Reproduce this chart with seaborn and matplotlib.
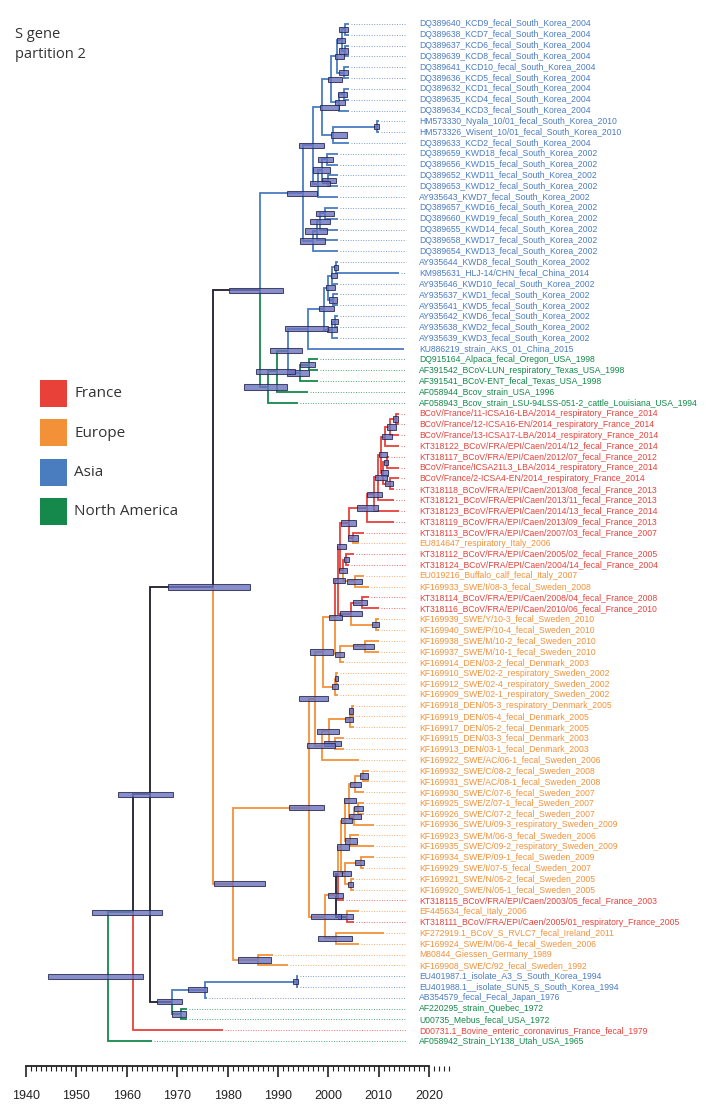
import matplotlib
matplotlib.use("Agg")
import matplotlib.pyplot as plt
from matplotlib.patches import Rectangle
import seaborn as sns

W, H = 707, 1110
XMIN, XMAX = 1934.84, 2075.12
YTOP, YBOT = -2.218, 100.37

# ---------------- data ----------------
tip_labels = [
    "DQ389640_KCD9_fecal_South_Korea_2004", "DQ389638_KCD7_fecal_South_Korea_2004",
    "DQ389637_KCD6_fecal_South_Korea_2004", "DQ389639_KCD8_fecal_South_Korea_2004",
    "DQ389641_KCD10_fecal_South_Korea_2004", "DQ389636_KCD5_fecal_South_Korea_2004",
    "DQ389632_KCD1_fecal_South_Korea_2004", "DQ389635_KCD4_fecal_South_Korea_2004",
    "DQ389634_KCD3_fecal_South_Korea_2004", "HM573330_Nyala_10/01_fecal_South_Korea_2010",
    "HM573326_Wisent_10/01_fecal_South_Korea_2010", "DQ389633_KCD2_fecal_South_Korea_2004",
    "DQ389659_KWD18_fecal_South_Korea_2002", "DQ389656_KWD15_fecal_South_Korea_2002",
    "DQ389652_KWD11_fecal_South_Korea_2002", "DQ389653_KWD12_fecal_South_Korea_2002",
    "AY935643_KWD7_fecal_South_Korea_2002", "DQ389657_KWD16_fecal_South_Korea_2002",
    "DQ389660_KWD19_fecal_South_Korea_2002", "DQ389655_KWD14_fecal_South_Korea_2002",
    "DQ389658_KWD17_fecal_South_Korea_2002", "DQ389654_KWD13_fecal_South_Korea_2002",
    "AY935644_KWD8_fecal_South_Korea_2002", "KM985631_HLJ-14/CHN_fecal_China_2014",
    "AY935646_KWD10_fecal_South_Korea_2002", "AY935637_KWD1_fecal_South_Korea_2002",
    "AY935641_KWD5_fecal_South_Korea_2002", "AY935642_KWD6_fecal_South_Korea_2002",
    "AY935638_KWD2_fecal_South_Korea_2002", "AY935639_KWD3_fecal_South_Korea_2002",
    "KU886219_strain_AKS_01_China_2015", "DQ915164_Alpaca_fecal_Oregon_USA_1998",
    "AF391542_BCoV-LUN_respiratory_Texas_USA_1998", "AF391541_BCoV-ENT_fecal_Texas_USA_1998",
    "AF058944_Bcov_strain_USA_1996", "AF058943_Bcov_strain_LSU-94LSS-051-2_cattle_Louisiana_USA_1994",
    "BCoV/France/11-ICSA16-LBA/2014_respiratory_France_2014",
    "BCoV/France/12-ICSA16-EN/2014_respiratory_France_2014",
    "BCoV/France/13-ICSA17-LBA/2014_respiratory_France_2014",
    "KT318122_BCoV/FRA/EPI/Caen/2014/12_fecal_France_2014",
    "KT318117_BCoV/FRA/EPI/Caen/2012/07_fecal_France_2012",
    "BCoV/France/ICSA21L3_LBA/2014_respiratory_France_2014",
    "BCoV/France/2-ICSA4-EN/2014_respiratory_France_2014",
    "KT318118_BCoV/FRA/EPI/Caen/2013/08_fecal_France_2013",
    "KT318121_BCoV/FRA/EPI/Caen/2013/11_fecal_France_2013",
    "KT318123_BCoV/FRA/EPI/Caen/2014/13_fecal_France_2014",
    "KT318119_BCoV/FRA/EPI/Caen/2013/09_fecal_France_2013",
    "KT318113_BCoV/FRA/EPI/Caen/2007/03_fecal_France_2007",
    "EU814647_respiratory_Italy_2006",
    "KT318112_BCoV/FRA/EPI/Caen/2005/02_fecal_France_2005",
    "KT318124_BCoV/FRA/EPI/Caen/2004/14_fecal_France_2004",
    "EU019216_Buffalo_calf_fecal_Italy_2007", "KF169933_SWE/I/08-3_fecal_Sweden_2008",
    "KT318114_BCoV/FRA/EPI/Caen/2008/04_fecal_France_2008",
    "KT318116_BCoV/FRA/EPI/Caen/2010/06_fecal_France_2010",
    "KF169939_SWE/Y/10-3_fecal_Sweden_2010", "KF169940_SWE/P/10-4_fecal_Sweden_2010",
    "KF169938_SWE/M/10-2_fecal_Sweden_2010", "KF169937_SWE/M/10-1_fecal_Sweden_2010",
    "KF169914_DEN/03-2_fecal_Denmark_2003", "KF169910_SWE/02-2_respiratory_Sweden_2002",
    "KF169912_SWE/02-4_respiratory_Sweden_2002", "KF169909_SWE/02-1_respiratory_Sweden_2002",
    "KF169918_DEN/05-3_respiratory_Denmark_2005", "KF169919_DEN/05-4_fecal_Denmark_2005",
    "KF169917_DEN/05-2_fecal_Denmark_2005", "KF169915_DEN/03-3_fecal_Denmark_2003",
    "KF169913_DEN/03-1_fecal_Denmark_2003", "KF169922_SWE/AC/06-1_fecal_Sweden_2006",
    "KF169932_SWE/C/08-2_fecal_Sweden_2008", "KF169931_SWE/AC/08-1_fecal_Sweden_2008",
    "KF169930_SWE/C/07-6_fecal_Sweden_2007", "KF169925_SWE/Z/07-1_fecal_Sweden_2007",
    "KF169926_SWE/C/07-2_fecal_Sweden_2007", "KF169936_SWE/U/09-3_respiratory_Sweden_2009",
    "KF169923_SWE/M/06-3_fecal_Sweden_2006", "KF169935_SWE/C/09-2_respiratory_Sweden_2009",
    "KF169934_SWE/P/09-1_fecal_Sweden_2009", "KF169929_SWE/I/07-5_fecal_Sweden_2007",
    "KF169921_SWE/N/05-2_fecal_Sweden_2005", "KF169920_SWE/N/05-1_fecal_Sweden_2005",
    "KT318115_BCoV/FRA/EPI/Caen/2003/05_fecal_France_2003", "EF445634_fecal_Italy_2006",
    "KT318111_BCoV/FRA/EPI/Caen/2005/01_respiratory_France_2005",
    "KF272919.1_BCoV_S_RVLC7_fecal_Ireland_2011", "KF169924_SWE/M/06-4_fecal_Sweden_2006",
    "M80844_Giessen_Germany_1989", "KF169908_SWE/C/92_fecal_Sweden_1992",
    "EU401987.1_isolate_A3_S_South_Korea_1994", "EU401988.1__isolate_SUN5_S_South_Korea_1994",
    "AB354579_fecal_Fecal_Japan_1976", "AF220295_strain_Quebec_1972",
    "U00735_Mebus_fecal_USA_1972", "D00731.1_Bovine_enteric_coronavirus_France_fecal_1979",
    "AF058942_Strain_LY138_Utah_USA_1965",
]

tip_years = [
    2004, 2004, 2004, 2004, 2004, 2004, 2004, 2004, 2004, 2010, 2010, 2004,
    2002, 2002, 2002, 2002, 2002, 2002, 2002, 2002, 2002, 2002, 2002, 2014,
    2002, 2002, 2002, 2002, 2002, 2002, 2015, 1998, 1998, 1998, 1996, 1994,
    2014, 2014, 2014, 2014, 2012, 2014, 2014, 2013, 2013, 2014, 2013, 2007,
    2006, 2005, 2004, 2007, 2008, 2008, 2010, 2010, 2010, 2010, 2010, 2003,
    2002, 2002, 2002, 2005, 2005, 2005, 2003, 2003, 2006, 2008, 2008, 2007,
    2007, 2007, 2009, 2006, 2009, 2009, 2007, 2005, 2005, 2003, 2006, 2005,
    2011, 2006, 1989, 1992, 1994, 1994, 1976, 1972, 1972, 1979, 1965,
]

# F = France, E = Europe, A = Asia, N = North America
tip_regions = list(
    "A" * 31 + "N" * 5 + "F" * 12 + "E" + "FF" + "EE" + "FF" + "E" * 26
    + "F" + "E" + "F" + "E" * 4 + "AAA" + "NN" + "F" + "N"
)

# internal nodes: (name, child1, child2, node year, HPD low, HPD high, state)  K = unresolved
asia_top_nodes = [
    ("n01", 0, 1, 2003.2, 2002.2, 2003.8, "A"),
    ("n23", 2, 3, 2003.2, 2002.2, 2003.8, "A"),
    ("n0123", "n01", "n23", 2002.6, 2001.8, 2003.3, "A"),
    ("n45", 4, 5, 2003.1, 2002.2, 2003.8, "A"),
    ("n05", "n0123", "n45", 2001.8, 2001.3, 2003.1, "A"),
    ("n67", 6, 7, 2003.0, 2002.0, 2003.6, "A"),
    ("n68", "n67", 8, 2002.2, 2001.4, 2003.2, "A"),
    ("n08", "n05", "n68", 2000.5, 2000.0, 2002.6, "A"),
    ("n910", 9, 10, 2009.6, 2009.0, 2010.0, "A"),
    ("n911", "n910", 11, 2001.0, 2000.6, 2003.6, "A"),
    ("n011", "n08", "n911", 1998.7, 1998.3, 2002.2, "A"),
    ("n1213", 12, 13, 1999.8, 1998.0, 2001.0, "A"),
    ("n1415", 14, 15, 2000.0, 1998.7, 2001.5, "A"),
    ("n1215", "n1213", "n1415", 1998.8, 1997.0, 2000.3, "A"),
    ("n1216", "n1215", 16, 1998.0, 1996.3, 2000.3, "A"),
    ("n016", "n011", "n1216", 1996.9, 1994.2, 1999.1, "A"),
    ("n1718", 17, 18, 1999.3, 1997.5, 2001.1, "A"),
    ("n1719", "n1718", 19, 1998.4, 1996.3, 2000.3, "A"),
    ("n1720", "n1719", 20, 1997.7, 1995.4, 1999.8, "A"),
    ("n1721", "n1720", 21, 1997.0, 1994.4, 1999.4, "A"),
    ("n021", "n016", "n1721", 1995.0, 1991.7, 1997.7, "A"),
]

asia_lower_nodes = [
    ("n2223", 22, 23, 2001.5, 2001.2, 2002.0, "A"),
    ("n2224", "n2223", 24, 2000.8, 2000.5, 2001.8, "A"),
    ("n2526", 25, 26, 2001.0, 2000.1, 2001.8, "A"),
    ("n2226", "n2224", "n2526", 2000.0, 1999.5, 2001.4, "A"),
    ("n2728", 27, 28, 2001.3, 2000.6, 2002.0, "A"),
    ("n2729", "n2728", 29, 2000.8, 1999.8, 2001.8, "A"),
    ("n2229", "n2226", "n2729", 1999.1, 1998.2, 2001.1, "A"),
    ("n2230", "n2229", 30, 1996.0, 1991.4, 2000.0, "A"),
]

north_america_nodes = [
    ("n3132", 31, 32, 1996.1, 1994.3, 1997.3, "N"),
    ("n3133", "n3132", 33, 1994.3, 1991.7, 1996.2, "A"),
    ("n2233", "n2230", "n3133", 1992.0, 1988.4, 1994.7, "N"),
    ("n2234", "n2233", 34, 1989.8, 1985.6, 1993.4, "N"),
    ("n2235", "n2234", 35, 1988.0, 1983.3, 1991.8, "N"),
    ("nB", "n021", "n2235", 1986.4, 1980.3, 1991.0, "K"),
]

france_nodes = [
    ("n3637", 36, 37, 2013.4, 2012.9, 2013.9, "F"),
    ("n3638", "n3637", 38, 2012.3, 2011.6, 2013.5, "F"),
    ("n3639", "n3638", 39, 2011.3, 2010.6, 2012.6, "F"),
    ("n4041", 40, 41, 2011.6, 2011.0, 2011.9, "F"),
    ("n4243", 42, 43, 2012.2, 2011.2, 2012.9, "F"),
    ("n4043", "n4041", "n4243", 2010.9, 2010.5, 2011.9, "F"),
    ("n3643", "n3639", "n4043", 2010.4, 2010.0, 2011.7, "F"),
    ("n3644", "n3643", 44, 2009.8, 2009.3, 2011.6, "F"),
    ("n3645", "n3644", 45, 2009.0, 2007.6, 2010.7, "F"),
    ("n3646", "n3645", 46, 2007.7, 2005.6, 2009.8, "F"),
    ("n4748", 47, 48, 2004.9, 2003.8, 2005.8, "F"),
    ("n3648", "n3646", "n4748", 2004.1, 2002.5, 2005.5, "F"),
    ("n4950", 49, 50, 2003.5, 2003.0, 2004.0, "F"),
    ("n5152", 51, 52, 2005.3, 2003.6, 2006.6, "E"),
    ("n4952", "n4950", "n5152", 2002.9, 2002.2, 2003.6, "F"),
    ("n3652", "n3648", "n4952", 2002.3, 2001.8, 2003.5, "F"),
    ("n5354", 53, 54, 2006.6, 2004.8, 2007.7, "F"),
    ("n5556", 55, 56, 2009.4, 2008.7, 2010.0, "E"),
    ("n5356", "n5354", "n5556", 2004.5, 2002.4, 2006.7, "F"),
    ("n3656", "n3652", "n5356", 2001.9, 2001.0, 2003.3, "F"),
    ("n5758", 57, 58, 2007.3, 2004.9, 2009.0, "E"),
    ("n5759", "n5758", 59, 2002.3, 2001.3, 2003.0, "E"),
    ("n3659", "n3656", "n5759", 2001.3, 2000.1, 2002.7, "E"),
]

europe_upper_nodes = [
    ("n6061", 60, 61, 2001.6, 2001.3, 2002.0, "E"),
    ("n6062", "n6061", 62, 2001.3, 2000.8, 2001.9, "E"),
    ("n3662", "n3659", "n6062", 1999.0, 1996.3, 2000.9, "E"),
    ("n6364", 63, 64, 2004.6, 2004.1, 2004.9, "E"),
    ("n6365", "n6364", 65, 2004.2, 2003.3, 2004.8, "E"),
    ("n6667", 66, 67, 2001.3, 1999.1, 2002.5, "E"),
    ("n6367", "n6365", "n6667", 2000.2, 1997.8, 2002.2, "E"),
    ("n6368", "n6367", 68, 1998.7, 1995.8, 2001.3, "E"),
    ("n3668", "n3662", "n6368", 1997.3, 1994.2, 2000.0, "E"),
]

europe_lower_nodes = [
    ("n6970", 69, 70, 2006.9, 2006.3, 2007.8, "E"),
    ("n6971", "n6970", 71, 2005.3, 2004.3, 2006.5, "E"),
    ("n7273", 72, 73, 2005.9, 2005.1, 2006.8, "E"),
    ("n7274", "n7273", 74, 2005.0, 2004.1, 2006.4, "E"),
    ("n6974", "n6971", "n7274", 2004.1, 2003.0, 2005.4, "E"),
    ("n7576", 75, 76, 2004.3, 2003.2, 2005.6, "E"),
    ("n6976", "n6974", "n7576", 2003.3, 2002.5, 2004.7, "E"),
    ("n7778", 77, 78, 2006.5, 2005.3, 2007.1, "E"),
    ("n7980", 79, 80, 2004.5, 2003.9, 2004.9, "E"),
    ("n7780", "n7778", "n7980", 2003.2, 2002.6, 2004.4, "E"),
    ("n6980", "n6976", "n7780", 2002.5, 2001.8, 2004.0, "E"),
    ("n6981", "n6980", 81, 2002.0, 2001.0, 2002.7, "K"),
    ("n8283", 82, 83, 2003.6, 2002.0, 2004.9, "K"),
    ("n6983", "n6981", "n8283", 2001.5, 2000.0, 2002.8, "E"),
    ("n8485", 84, 85, 2001.5, 1998.0, 2004.6, "E"),
    ("n6985", "n6983", "n8485", 1999.3, 1996.5, 2002.5, "E"),
    ("nD", "n3668", "n6985", 1996.2, 1992.2, 1999.2, "E"),
    ("n8687", 86, 87, 1986.1, 1982.1, 1988.6, "E"),
    ("nC", "nD", "n8687", 1981.1, 1977.3, 1987.4, "E"),
]

backbone_nodes = [
    ("nA", "nB", "nC", 1977.2, 1968.2, 1984.4, "K"),
    ("n8889", 88, 89, 1993.8, 1992.9, 1994.0, "A"),
    ("n8890", "n8889", 90, 1975.5, 1972.2, 1975.9, "A"),
    ("n9192", 91, 92, 1970.7, 1968.9, 1971.7, "N"),
    ("n8892", "n8890", "n9192", 1969.0, 1965.9, 1971.0, "K"),
    ("nR1", "nA", "n8892", 1964.6, 1958.3, 1969.2, "K"),
    ("nR2", "nR1", 93, 1961.3, 1953.0, 1966.9, "N"),
    ("root", "nR2", 94, 1956.3, 1944.4, 1963.3, "N"),
]

legend_names = ["France", "Europe", "Asia", "North America"]
legend_codes = ["F", "E", "A", "N"]
axis_years = list(range(1940, 2021, 10))
minor_years = list(range(1940, 2025))
title_lines = ["S gene", "partition 2"]

# ---------------- style ----------------
sns.set_theme(style="white")
plt.rcParams["font.family"] = ["Liberation Sans", "DejaVu Sans"]

COL = {"F": "#e8413a", "E": "#f39139", "A": "#4a7cc0", "N": "#14894b", "K": "#1c1c2c"}

fig = plt.figure(figsize=(W / 100, H / 100), dpi=100)
ax = fig.add_axes([0, 0, 1, 1])
ax.set_xlim(XMIN, XMAX)
ax.set_ylim(YBOT, YTOP)
ax.axis("off")

nodes = (asia_top_nodes + asia_lower_nodes + north_america_nodes + france_nodes
         + europe_upper_nodes + europe_lower_nodes + backbone_nodes)

ypos, xpos, state = {}, {}, {}
for i, (yr, rg) in enumerate(zip(tip_years, tip_regions)):
    ypos[i], xpos[i], state[i] = float(i), float(yr), rg
for name, c1, c2, yr, lo, hi, st in nodes:
    ypos[name] = (ypos[c1] + ypos[c2]) / 2.0
    xpos[name] = yr
    state[name] = st

# branches
for name, c1, c2, yr, lo, hi, st in nodes:
    for c in (c1, c2):
        ax.plot([yr, yr, xpos[c]], [ypos[name], ypos[c], ypos[c]],
                color=COL[state[c]], lw=1.3, solid_joinstyle="miter",
                solid_capstyle="butt", zorder=2)

# HPD bars
for name, c1, c2, yr, lo, hi, st in nodes:
    ax.barh(ypos[name], hi - lo, left=lo, height=0.48, color="#6c73c0",
            alpha=0.8, edgecolor="#22234a", linewidth=0.75, zorder=3)

# tips: dotted guides and labels
DOT_END, LABEL_X = 2015.3, 2018.0
for i, lab in enumerate(tip_labels):
    c = COL[tip_regions[i]]
    if tip_years[i] < DOT_END - 0.3:
        ax.plot([tip_years[i] + 0.4, DOT_END], [i, i], color=c, lw=0.7,
                ls=(0, (1.0, 1.6)), alpha=0.75, zorder=1)
    ax.text(LABEL_X, i, lab, fontsize=6.2, color=c, va="center", ha="left",
            family=["Liberation Sans", "DejaVu Sans"])

# title
fig.text(15 / W, 1 - 38 / H, title_lines[0], fontsize=10.5, color="#333333",
         family=["Open Sans", "DejaVu Sans"], va="baseline")
fig.text(15 / W, 1 - 58.5 / H, title_lines[1], fontsize=10.5, color="#333333",
         family=["Open Sans", "DejaVu Sans"], va="baseline")

# legend
for k, (nm, code) in enumerate(zip(legend_names, legend_codes)):
    top = 380 + k * 39.3
    fig.add_artist(Rectangle((40 / W, 1 - (top + 27) / H), 27 / W, 27 / H,
                             transform=fig.transFigure, facecolor=COL[code],
                             edgecolor="none"))
    fig.text(74 / W, 1 - (top + 14) / H, nm, fontsize=11, color="#333333",
             family=["Open Sans", "DejaVu Sans"], va="center")

# time axis
tax = fig.add_axes([0, 1 - 1066 / H, 1, 0.0005])
tax.set_xlim(XMIN, XMAX)
tax.set_yticks([])
tax.patch.set_visible(False)
for s in ["top", "left", "right"]:
    tax.spines[s].set_visible(False)
tax.spines["bottom"].set_bounds(1940, 2020)
tax.spines["bottom"].set_linewidth(1.3)
tax.spines["bottom"].set_color("#222222")
tax.set_xticks(axis_years)
tax.set_xticklabels([str(y) for y in axis_years])
tax.set_xticks(minor_years, minor=True)
tax.tick_params(axis="x", which="major", bottom=True, length=8, width=1.2,
                direction="out", pad=9, labelsize=9, colors="#222222")
tax.tick_params(axis="x", which="minor", bottom=True, length=3.5, width=0.8,
                direction="out", colors="#222222")

fig.savefig("out.png", dpi=100)
